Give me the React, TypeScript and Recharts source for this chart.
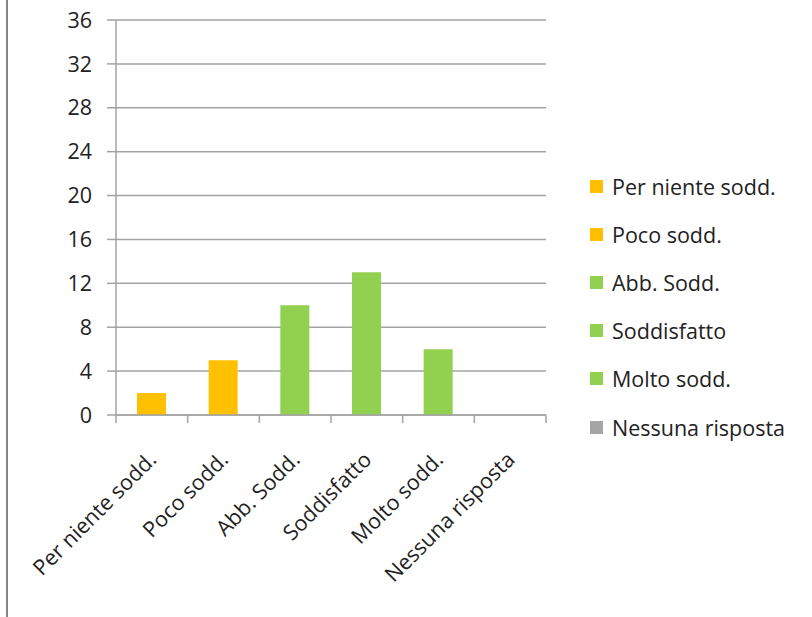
import React from 'react';
import { BarChart, Bar, XAxis, YAxis, CartesianGrid, Cell } from 'recharts';

const categories = [
  'Per niente sodd.',
  'Poco sodd.',
  'Abb. Sodd.',
  'Soddisfatto',
  'Molto sodd.',
  'Nessuna risposta',
];
const values = [2, 5, 10, 13, 6, 0];
const colors = ['#FFC000', '#FFC000', '#92D050', '#92D050', '#92D050', '#A5A5A5'];
const yTicks = [0, 4, 8, 12, 16, 20, 24, 28, 32, 36];

const data = categories.map((name, i) => ({ name, value: values[i] }));

const FONT = '"Open Sans", Lato, sans-serif';
const AXIS = '#A3A3A3';
const TEXT = '#222222';

function CategoryTick(props: any) {
  const { x, y, payload, index } = props;
  const half = payload.offset ?? 0;
  const last = index === categories.length - 1;
  return (
    <g>
      <line x1={x - half} x2={x - half} y1={y} y2={y + 8} stroke={AXIS} strokeWidth={1.5} />
      {last && <line x1={x + half} x2={x + half} y1={y} y2={y + 8} stroke={AXIS} strokeWidth={1.5} />}
      <text
        x={0}
        y={0}
        transform={`translate(${x + 6},${y + 46}) rotate(-45)`}
        textAnchor="end"
        fill={TEXT}
        fontSize={21.5}
        fontFamily={FONT}
      >
        {payload.value}
      </text>
    </g>
  );
}

function LegendBox() {
  return (
    <div style={{ position: 'absolute', left: 590, top: 0, fontFamily: FONT, fontSize: 21.5, color: TEXT }}>
      {categories.map((c, i) => (
        <div
          key={c}
          style={{
            position: 'absolute',
            top: 186 + i * 48.2 - 14,
            left: 0,
            height: 28,
            display: 'flex',
            alignItems: 'center',
            whiteSpace: 'nowrap',
          }}
        >
          <span style={{ width: 13, height: 13, background: colors[i], display: 'inline-block', marginRight: 9 }} />
          <span>{c}</span>
        </div>
      ))}
    </div>
  );
}

export default function App() {
  return (
    <div style={{ position: 'absolute', left: 0, top: 0, width: 812, height: 617, background: '#fff', overflow: 'hidden' }}>
      <div style={{ position: 'absolute', left: 6, top: 0, width: 2, height: 617, background: '#858585' }} />
      <BarChart
        width={812}
        height={617}
        data={data}
        margin={{ top: 20, right: 266, left: 0, bottom: 0 }}
        barSize={29}
      >
        <CartesianGrid vertical={false} stroke={AXIS} strokeWidth={1.5} />
        <XAxis
          dataKey="name"
          height={202}
          interval={0}
          tickSize={0}
          tickMargin={0}
          tickLine={false}
          axisLine={{ stroke: AXIS, strokeWidth: 1.5 }}
          tick={<CategoryTick />}
        />
        <YAxis
          width={116}
          domain={[0, 36]}
          ticks={yTicks}
          interval={0}
          tickSize={9}
          tickMargin={15}
          axisLine={{ stroke: AXIS, strokeWidth: 1.5 }}
          tickLine={{ stroke: AXIS, strokeWidth: 1.5 }}
          tick={{ fill: TEXT, fontSize: 21.5, fontFamily: FONT }}
        />
        <Bar dataKey="value" isAnimationActive={false}>
          {data.map((d, i) => (
            <Cell key={d.name} fill={colors[i]} />
          ))}
        </Bar>
      </BarChart>
      <LegendBox />
    </div>
  );
}
